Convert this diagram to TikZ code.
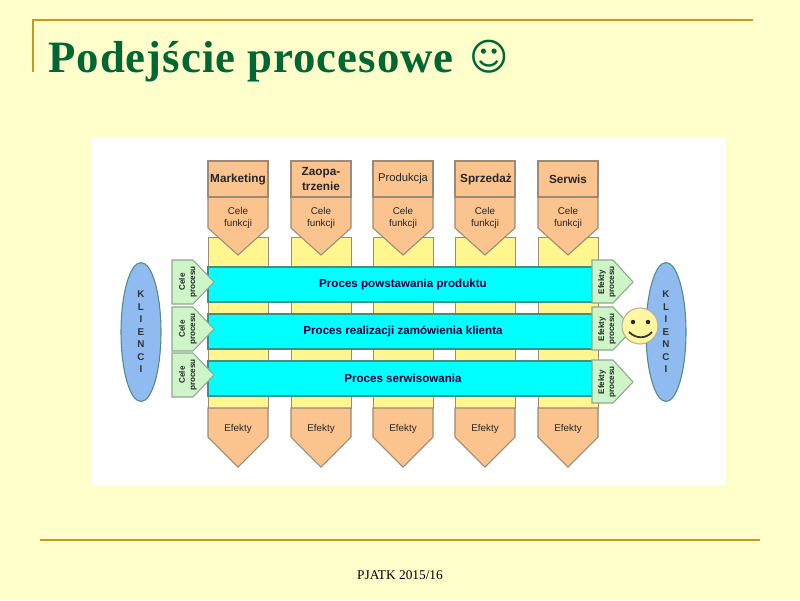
\documentclass[tikz,border=0pt]{standalone}
\usepackage{fontspec}
\setmainfont{Liberation Serif}
\setsansfont{Liberation Sans}
\newfontfamily\symfont{DejaVu Sans}
\newfontfamily\titlefont[LetterSpace=2.2]{Liberation Serif}
\usetikzlibrary{positioning, shapes.geometric}

\definecolor{slidebg}{HTML}{FFFFCC}
\definecolor{titlegreen}{HTML}{006633}
\definecolor{rulegold}{HTML}{C49A1E}
\definecolor{peach}{HTML}{FBC48E}
\definecolor{peachline}{HTML}{9A8A76}
\definecolor{lemon}{HTML}{FFF68F}
\definecolor{mint}{HTML}{CDF5C8}
\definecolor{mintline}{HTML}{8FA88F}
\definecolor{sky}{HTML}{8FBBF0}
\definecolor{barline}{HTML}{3F8F85}
\definecolor{barcyan}{HTML}{00FFFF}

\begin{document}
\begin{tikzpicture}[
  x=0.02cm, y=-0.02cm,
  font=\sffamily,
  rulegoldline/.style={rulegold, line width=1pt},
  peachbox/.style={fill=peach, draw=peachline, line width=0.6pt},
  lemonbox/.style={fill=lemon, draw=peachline, line width=0.5pt},
  barbox/.style={fill=barcyan, draw=barline, line width=0.6pt},
  mintbox/.style={fill=mint, draw=mintline, line width=0.6pt},
  lbl/.style={align=center, font=\sffamily\fontsize{5.6}{6.6}\selectfont, text=black!85},
  lblbold/.style={lbl, font=\sffamily\bfseries\fontsize{6.7}{8.4}\selectfont},
  barlbl/.style={align=center, font=\sffamily\bfseries\fontsize{6.6}{8}\selectfont, text=black!75!blue},
  smalllbl/.style={lbl, rotate=90, font=\sffamily\bfseries\fontsize{4.6}{5.8}\selectfont},
  klient/.style={ellipse, fill=sky, draw=barline!70!gray, line width=0.6pt, minimum width=0.8cm, minimum height=2.78cm,
    inner sep=0pt, align=center, text=black!80, font=\sffamily\bfseries\fontsize{5.6}{7.1}\selectfont},
]

\useasboundingbox (0,0) rectangle (800,600);
\fill[slidebg] (0,0) rectangle (800,600);

% ---- slide frame ----
\draw[rulegoldline] (33,72) -- (33,20) -- (753,20);
\draw[rulegoldline] (40,540) -- (760,540);
\node[titlegreen, anchor=base west, inner sep=0pt, font=\titlefont\bfseries\fontsize{25.5}{30}\selectfont] (title) at (48,72) {Podejście procesowe};
\node[titlegreen, inner sep=0pt, font=\symfont\bfseries\fontsize{21.5}{30}\selectfont] (titlesmile) at (489,57) {☺};
\node[black, font=\rmfamily\fontsize{7.6}{9}\selectfont] (footer) at (400,575) {PJATK 2015/16};

% ---- white panel ----
\fill[white] (92,137) rectangle (726,485);

% ---- columns ----
\foreach \x in {208,291,373,455,538}{
  \draw[lemonbox] (\x,237) rectangle (\x+60,408);
  \draw[peachbox] (\x,197) -- (\x+60,197) -- (\x+60,228) -- (\x+30,255) -- (\x,228) -- cycle;
  \draw[peachbox] (\x,408) -- (\x+60,408) -- (\x+60,437) -- (\x+30,467) -- (\x,437) -- cycle;
  \draw[peachbox] (\x,161) rectangle (\x+60,197);
  \node[lbl] at (\x+30,218) {Cele\\funkcji};
  \node[lbl] at (\x+30,429) {Efekty};
}

% function names
\node[lblbold] (marketing) at (238,179) {Marketing};
\node[lblbold] (zaopatrzenie) at (321,179) {Zaopa-\\trzenie};
\node[lbl, font=\sffamily\fontsize{6.4}{8}\selectfont] (produkcja) at (403,179) {Produkcja};
\node[lblbold] (sprzedaz) at (486,179) {Sprzedaż};
\node[lblbold] (serwis) at (568,179) {Serwis};

% ---- process bars ----
\foreach \y/\lab in {267/Proces powstawania produktu, 314/Proces realizacji zamówienia klienta, 361/Proces serwisowania}{
  \draw[barbox] (208,\y) rectangle (598,\y+35);
  \node[barlbl] at (403,\y+17) {\lab};
}

% ---- process goals and results ----
\foreach \y in {282,329,375}{
  \draw[mintbox] (172,\y-22) -- (193,\y-22) -- (214,\y) -- (193,\y+22) -- (172,\y+22) -- cycle;
  \node[smalllbl] at (188,\y) {Cele\\procesu};
}
\foreach \y in {282,329,382}{
  \draw[mintbox] (592,\y-22) -- (613,\y-22) -- (633,\y) -- (613,\y+21) -- (592,\y+21) -- cycle;
  \node[smalllbl] at (607,\y) {Efekty\\procesu};
}

% ---- customers ----
\node[klient] (klienciL) at (141,332) {K\\L\\I\\E\\N\\C\\I};
\node[klient] (klienciR) at (666,332) {K\\L\\I\\E\\N\\C\\I};

% ---- smiley ----
\draw[fill=lemon!85!white, draw=peachline!70, line width=0.6pt] (640,326) circle (18);
\fill[black!85] (633,322) circle (2.2) (648,322) circle (2.2);
\draw[black!80, line width=1pt] (629,332) .. controls (636,339) and (646,339) .. (652,332);

\end{tikzpicture}
\end{document}
